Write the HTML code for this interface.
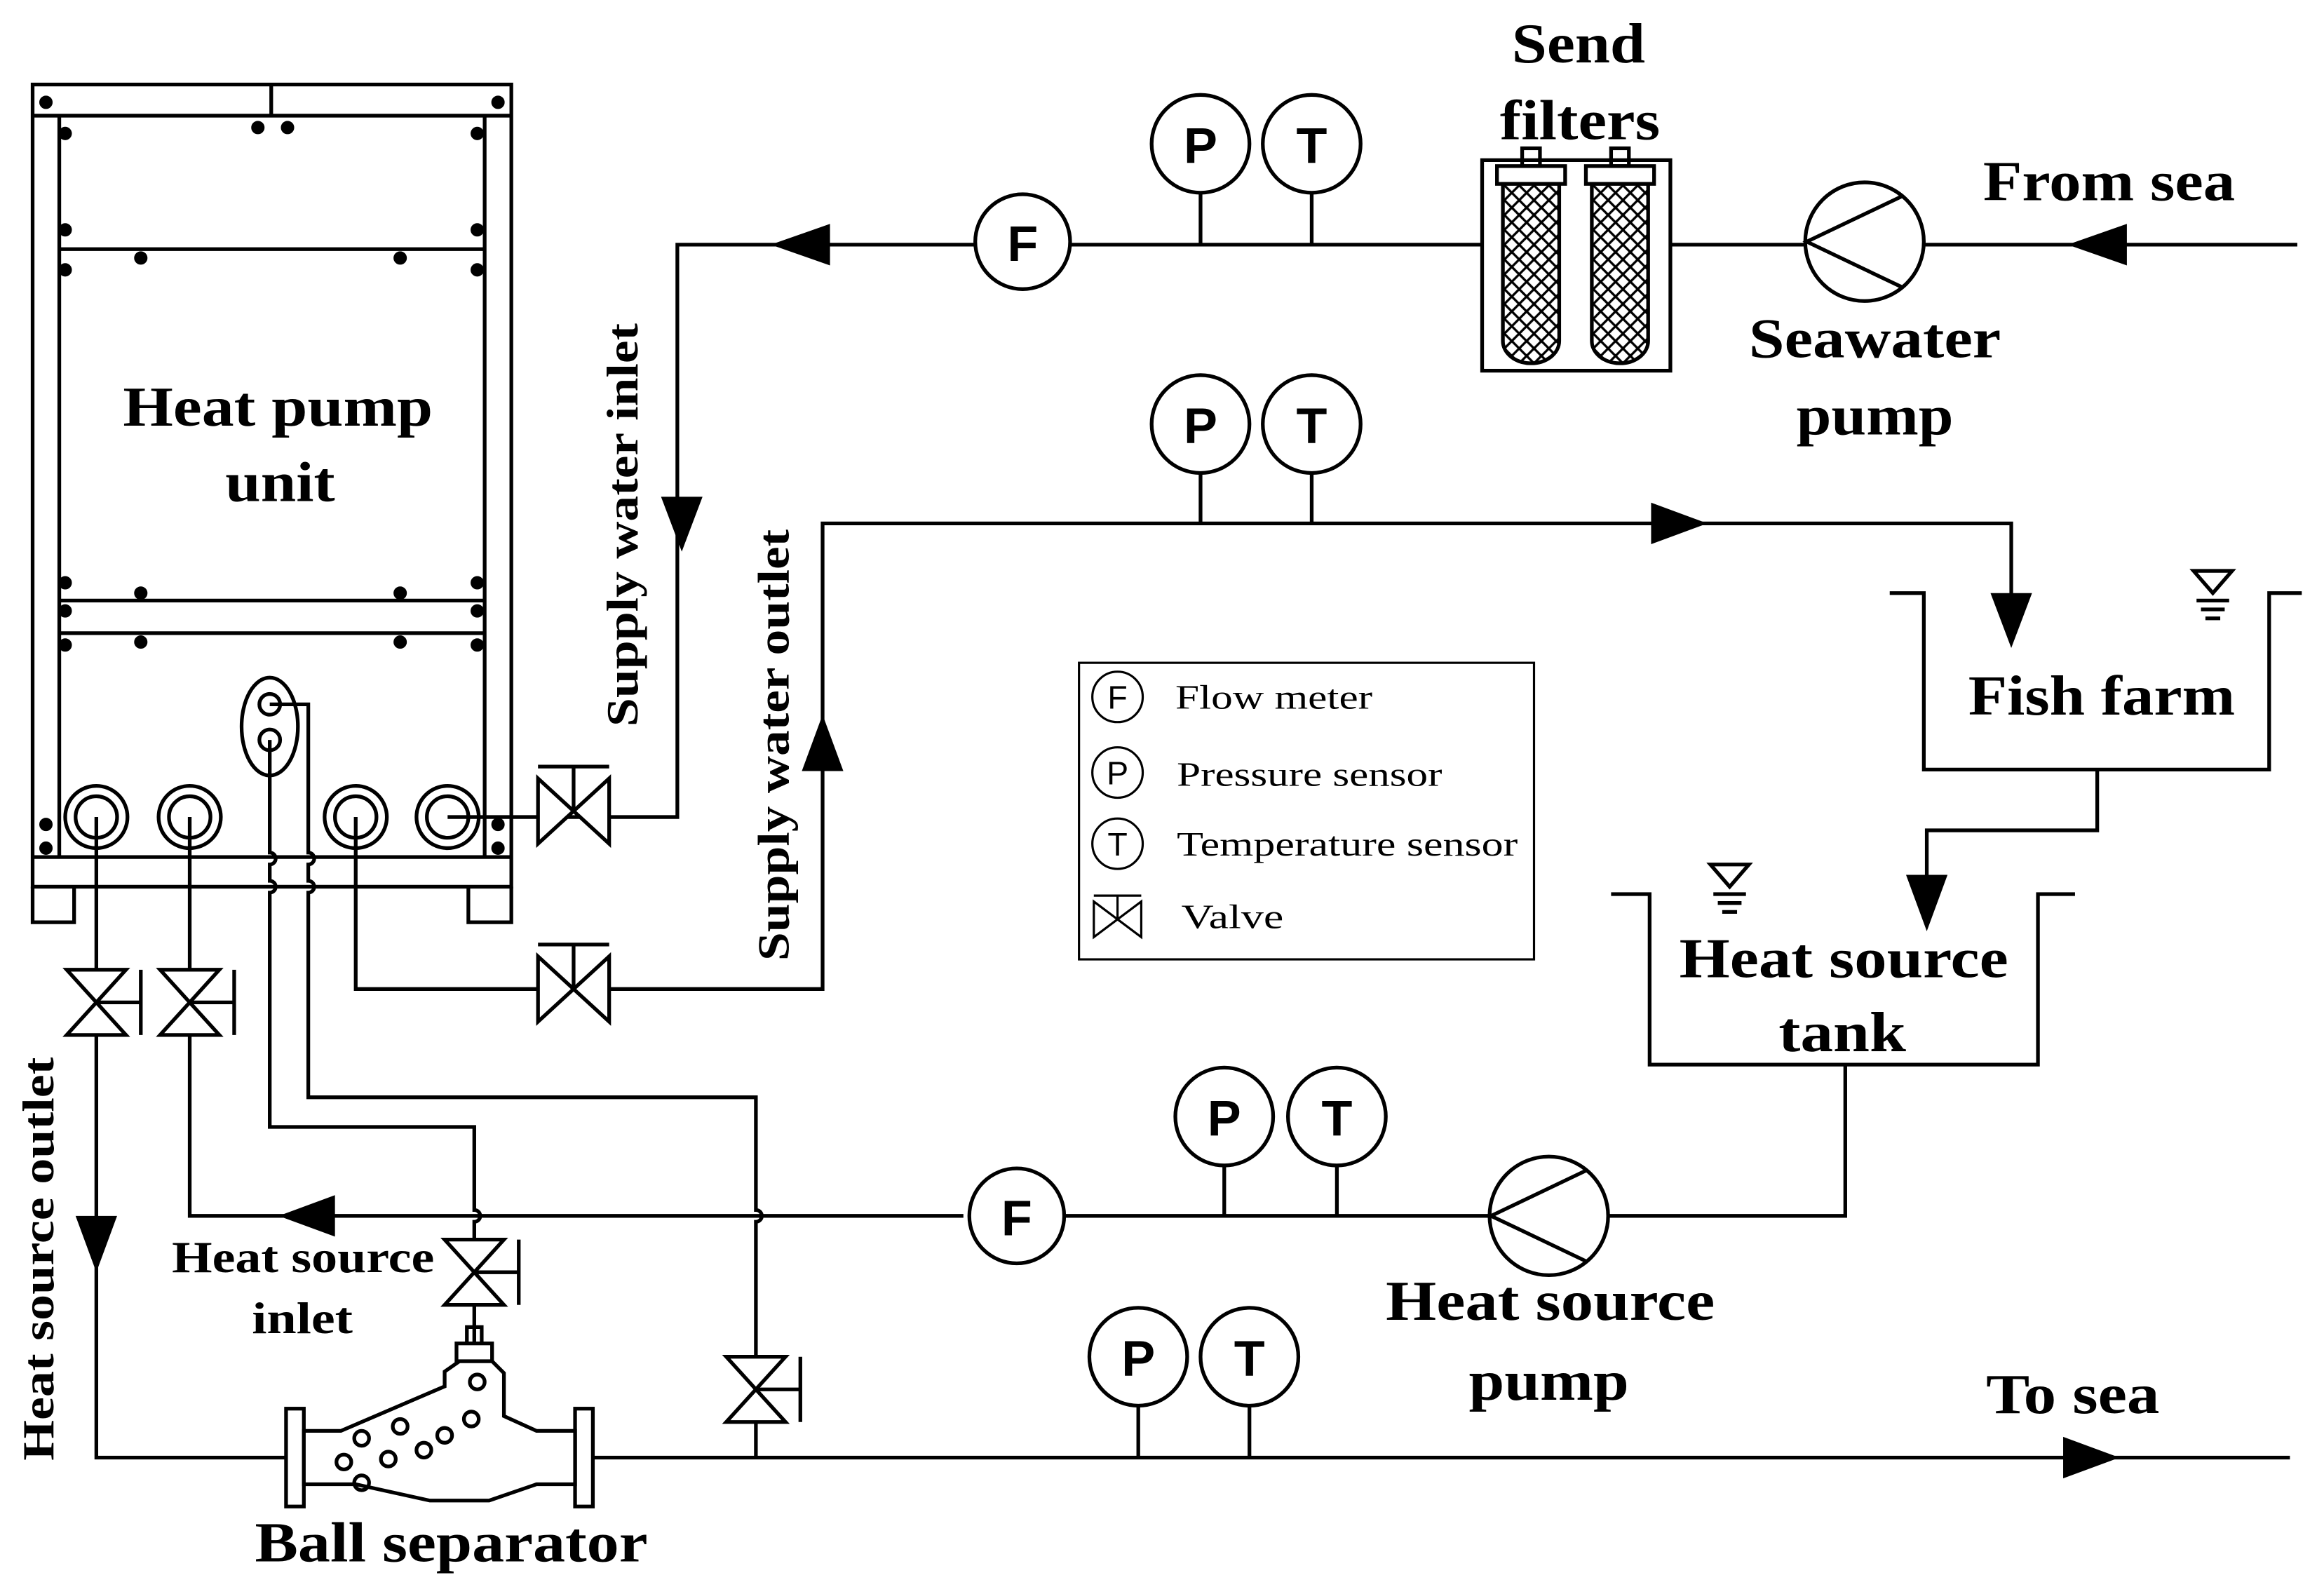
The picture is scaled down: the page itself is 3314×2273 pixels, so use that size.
<!DOCTYPE html>
<html><head><meta charset="utf-8"><style>
html,body{margin:0;padding:0;background:#fff}
svg{display:block}
.t{font-family:"Liberation Serif",serif;font-weight:bold;font-size:38px;fill:#000}
.l{font-family:"Liberation Serif",serif;font-size:23px;fill:#000}
.c{font-family:"Liberation Sans",sans-serif;font-weight:bold;font-size:34px;fill:#000}
.cs{font-family:"Liberation Sans",sans-serif;font-size:22px;fill:#000}
</style></head><body>
<svg width="3314" height="2273" viewBox="0 0 1568 1075" preserveAspectRatio="none" xmlns="http://www.w3.org/2000/svg">
<defs>
<g id="hv"><path d="M-24,-22 L24,22 L24,-22 L-24,22 Z M0,0 L0,-30 M-24,-30 L24,-30" fill="#fff" stroke="#000" stroke-width="2.5"/></g>
<g id="vv"><path d="M-20,-22 L20,-22 L-20,22 L20,22 Z M0,0 L30,0 M30,-22 L30,22" fill="#fff" stroke="#000" stroke-width="2.5"/></g>
<pattern id="hatch" width="10" height="10" patternUnits="userSpaceOnUse">
<rect width="10" height="10" fill="#fff"/>
<path d="M0,0 L10,10 M10,0 L0,10" stroke="#000" stroke-width="1.6"/>
</pattern>
</defs>
<g fill="none" stroke="#000" stroke-width="2.5">
<rect x="22" y="57" width="323" height="541"/>
<line x1="22" y1="78" x2="345" y2="78"/>
<line x1="40" y1="78" x2="40" y2="578"/><line x1="327" y1="78" x2="327" y2="578"/>
<line x1="40" y1="168" x2="327" y2="168"/>
<line x1="40" y1="405" x2="327" y2="405"/><line x1="40" y1="427" x2="327" y2="427"/>
<line x1="22" y1="578" x2="345" y2="578"/>
<line x1="183" y1="57" x2="183" y2="78"/>
<path d="M22,598 V622 H50 V598 M316,598 V622 H345 V598"/>
<circle cx="65" cy="551" r="21"/><circle cx="65" cy="551" r="14"/>
<circle cx="128" cy="551" r="21"/><circle cx="128" cy="551" r="14"/>
<circle cx="240" cy="551" r="21"/><circle cx="240" cy="551" r="14"/>
<circle cx="302" cy="551" r="21"/><circle cx="302" cy="551" r="14"/>
<ellipse cx="182" cy="490" rx="19" ry="33"/>
<circle cx="182" cy="475" r="7"/><circle cx="182" cy="499" r="7"/>
<path d="M65,551 V983 H193"/>
<path d="M128,551 V820 H650"/>
<path d="M182,499 V575 a4,4 0 0 1 0,8 V594 a4,4 0 0 1 0,8 V760 H320 V816 a4,4 0 0 1 0,8 V905"/>
<path d="M182,475 H208 V575 a4,4 0 0 1 0,8 V594 a4,4 0 0 1 0,8 V740 H510 V816 a4,4 0 0 1 0,8 V983"/>
<path d="M240,551 V667 H555 V353 H1357 V420"/>
<path d="M302,551 H457 V165 H658"/>
<path d="M722,165 H1000 M1127,165 H1218 M1298,165 H1550"/>
<path d="M810,130 V165 M885,130 V165"/>
<path d="M810,320 V353 M885,320 V353"/>
<path d="M718,820 H1005 M1085,820 H1245 V718"/>
<path d="M826,786 V820 M902,786 V820"/>
<path d="M400,983 H1545"/>
<path d="M768,948 V983 M843,948 V983"/>
<path d="M1415,519 V560 H1300 V595"/>
<path d="M1275,400 H1298 V519 H1531 V400 H1553"/>
<path d="M1087,603 H1113 V718 H1375 V603 H1400"/>
<circle cx="690" cy="163" r="32" fill="#fff"/>
<circle cx="810" cy="97" r="33" fill="#fff"/><circle cx="885" cy="97" r="33" fill="#fff"/>
<circle cx="810" cy="286" r="33" fill="#fff"/><circle cx="885" cy="286" r="33" fill="#fff"/>
<circle cx="686" cy="820" r="32" fill="#fff"/>
<circle cx="826" cy="753" r="33" fill="#fff"/><circle cx="902" cy="753" r="33" fill="#fff"/>
<circle cx="768" cy="915" r="33" fill="#fff"/><circle cx="843" cy="915" r="33" fill="#fff"/>
<circle cx="1258" cy="163" r="40" fill="#fff"/><path d="M1284,132 L1219,163 L1284,194"/>
<circle cx="1045" cy="820" r="40" fill="#fff"/><path d="M1071,789 L1006,820 L1071,851"/>
<rect x="1000" y="108" width="127" height="142" fill="#fff"/>
<rect x="1010" y="112" width="46" height="12"/><rect x="1070" y="112" width="46" height="12"/>
<rect x="1027" y="100" width="12" height="12"/><rect x="1087" y="100" width="12" height="12"/>
<path d="M1014,124 V230 a19,15 0 0 0 38,0 V124 Z M1074,124 V230 a19,15 0 0 0 38,0 V124 Z" fill="url(#hatch)"/>
<rect x="728" y="447" width="307" height="200" stroke-width="1.5"/>
<g stroke-width="1.5"><circle cx="754" cy="470" r="17"/><circle cx="754" cy="521" r="17"/><circle cx="754" cy="569" r="17"/>
<path d="M738,608 L770,632 V608 L738,632 Z M754,620 V604 M738,604 H770"/></g>
<rect x="193" y="950" width="12" height="66" fill="#fff"/><rect x="388" y="950" width="12" height="66" fill="#fff"/>
<path d="M205,965 H230 L300,935 V925 L310,918 H332 L340,926 V955 L362,965 H388 V1001 H362 L330,1012 H290 L240,1001 H205 Z" fill="#fff"/>
<rect x="308" y="906" width="24" height="12" fill="#fff"/>
<path d="M315,905 V895 H325 V905"/>
<circle cx="244" cy="970" r="5"/><circle cx="270" cy="962" r="5"/><circle cx="300" cy="968" r="5"/>
<circle cx="232" cy="986" r="5"/><circle cx="262" cy="984" r="5"/><circle cx="286" cy="978" r="5"/>
<circle cx="318" cy="957" r="5"/><circle cx="322" cy="932" r="5"/><circle cx="244" cy="1000" r="5"/>
<path d="M1480,385 H1506 L1493,400 Z M1482,405 H1504 M1485,411 H1501 M1488,417 H1498"/>
<path d="M1154,583 H1180 L1167,598 Z M1156,603 H1178 M1159,609 H1175 M1162,615 H1172"/>
</g>
<use href="#hv" x="387" y="547"/>
<use href="#hv" x="387" y="667"/>
<use href="#vv" x="65" y="676"/>
<use href="#vv" x="128" y="676"/>
<use href="#vv" x="320" y="858"/>
<use href="#vv" x="510" y="937"/>
<g fill="#000">
<path d="M520,165 L560,151 L560,179 Z"/>
<path d="M1395,165 L1435,151 L1435,179 Z"/>
<path d="M460,372 L446,335 L474,335 Z"/>
<path d="M555,482 L541,520 L569,520 Z"/>
<path d="M1152,353 L1114,339 L1114,367 Z"/>
<path d="M1357,437 L1343,400 L1371,400 Z"/>
<path d="M1300,628 L1286,590 L1314,590 Z"/>
<path d="M188,820 L226,806 L226,834 Z"/>
<path d="M65,858 L51,820 L79,820 Z"/>
<path d="M1430,983 L1392,969 L1392,997 Z"/>
<g stroke="#000" stroke-width="1">
<circle cx="31" cy="69" r="4"/><circle cx="336" cy="69" r="4"/><circle cx="174" cy="86" r="4"/><circle cx="194" cy="86" r="4"/>
<circle cx="44" cy="90" r="4"/><circle cx="322" cy="90" r="4"/><circle cx="44" cy="155" r="4"/><circle cx="322" cy="155" r="4"/>
<circle cx="44" cy="182" r="4"/><circle cx="322" cy="182" r="4"/><circle cx="95" cy="174" r="4"/><circle cx="270" cy="174" r="4"/>
<circle cx="44" cy="393" r="4"/><circle cx="322" cy="393" r="4"/><circle cx="95" cy="400" r="4"/><circle cx="270" cy="400" r="4"/>
<circle cx="44" cy="412" r="4"/><circle cx="322" cy="412" r="4"/><circle cx="44" cy="435" r="4"/><circle cx="322" cy="435" r="4"/>
<circle cx="95" cy="433" r="4"/><circle cx="270" cy="433" r="4"/>
<circle cx="31" cy="556" r="4"/><circle cx="31" cy="572" r="4"/><circle cx="336" cy="556" r="4"/><circle cx="336" cy="572" r="4"/>
</g>
</g>
<g class="c" text-anchor="middle">
<text x="690" y="176">F</text><text x="810" y="110">P</text><text x="885" y="110">T</text>
<text x="810" y="299">P</text><text x="885" y="299">T</text>
<text x="686" y="833">F</text><text x="826" y="766">P</text><text x="902" y="766">T</text>
<text x="768" y="928">P</text><text x="843" y="928">T</text>
</g>
<g class="cs" text-anchor="middle"><text x="754" y="478">F</text><text x="754" y="529">P</text><text x="754" y="577">T</text></g>
<g class="t">
<text x="83" y="287" textLength="209" lengthAdjust="spacingAndGlyphs">Heat pump</text>
<text x="152" y="338" textLength="74" lengthAdjust="spacingAndGlyphs">unit</text>
<text x="1020" y="42" textLength="90" lengthAdjust="spacingAndGlyphs">Send</text>
<text x="1012" y="94" textLength="108" lengthAdjust="spacingAndGlyphs">filters</text>
<text x="1338" y="135" textLength="170" lengthAdjust="spacingAndGlyphs">From sea</text>
<text x="1180" y="241" textLength="170" lengthAdjust="spacingAndGlyphs">Seawater</text>
<text x="1212" y="293" textLength="106" lengthAdjust="spacingAndGlyphs">pump</text>
<text x="1328" y="482" textLength="180" lengthAdjust="spacingAndGlyphs">Fish farm</text>
<text x="1133" y="659" textLength="222" lengthAdjust="spacingAndGlyphs">Heat source</text>
<text x="1200" y="709" textLength="86" lengthAdjust="spacingAndGlyphs">tank</text>
<text x="935" y="890" textLength="222" lengthAdjust="spacingAndGlyphs">Heat source</text>
<text x="991" y="944" textLength="108" lengthAdjust="spacingAndGlyphs">pump</text>
<text x="1340" y="953" textLength="117" lengthAdjust="spacingAndGlyphs">To sea</text>
<text x="172" y="1053" textLength="265" lengthAdjust="spacingAndGlyphs">Ball separator</text>
</g>
<g class="t" style="font-size:30px">
<text x="116" y="858" textLength="177" lengthAdjust="spacingAndGlyphs">Heat source</text>
<text x="170" y="899" textLength="68" lengthAdjust="spacingAndGlyphs">inlet</text>
<text transform="translate(430,490) rotate(-90)" textLength="272" lengthAdjust="spacingAndGlyphs">Supply water inlet</text>
<text transform="translate(532,648) rotate(-90)" textLength="291" lengthAdjust="spacingAndGlyphs">Supply water outlet</text>
<text transform="translate(36,985) rotate(-90)" textLength="272" lengthAdjust="spacingAndGlyphs">Heat source outlet</text>
</g>
<g class="l">
<text x="793" y="478" textLength="133" lengthAdjust="spacingAndGlyphs">Flow meter</text>
<text x="794" y="530" textLength="179" lengthAdjust="spacingAndGlyphs">Pressure sensor</text>
<text x="794" y="577" textLength="230" lengthAdjust="spacingAndGlyphs">Temperature sensor</text>
<text x="797" y="626" textLength="69" lengthAdjust="spacingAndGlyphs">Valve</text>
</g>
</svg>
</body></html>
